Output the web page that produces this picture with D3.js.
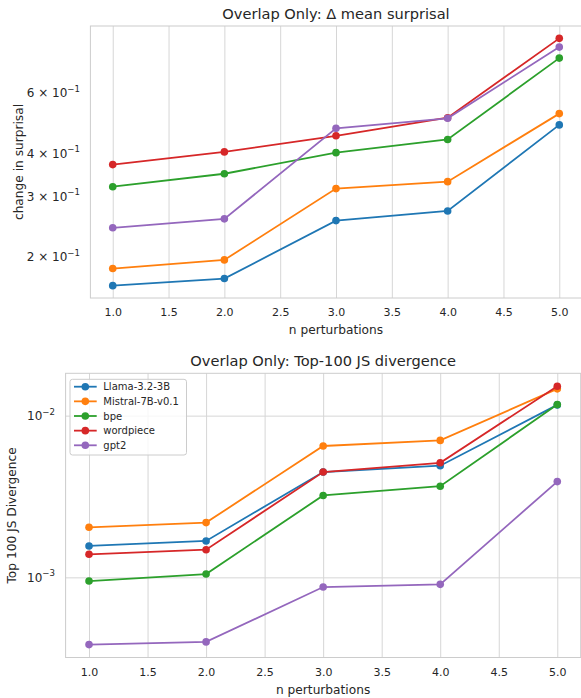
<!DOCTYPE html>
<html>
<head>
<meta charset="utf-8">
<script src="https://cdn.jsdelivr.net/npm/d3@7"></script>
<style>
  html, body { margin: 0; padding: 0; background: #fff; }
  svg { display: block; font-family: "DejaVu Sans", sans-serif; }
</style>
</head>
<body>
<svg id="chart" width="581" height="698"></svg>
<script>
// ---------------- data ----------------
const nPerturbations = [1, 2, 3, 4, 5];
const seriesNames = ["Llama-3.2-3B", "Mistral-7B-v0.1", "bpe", "wordpiece", "gpt2"];
const seriesColors = ["#1f77b4", "#ff7f0e", "#2ca02c", "#d62728", "#9467bd"];

// Top panel: Δ mean surprisal
const surprisalLlama     = [0.165, 0.173, 0.255, 0.272, 0.484];
const surprisalMistral   = [0.185, 0.196, 0.316, 0.331, 0.522];
const surprisalBpe       = [0.320, 0.349, 0.402, 0.439, 0.757];
const surprisalWordpiece = [0.371, 0.404, 0.450, 0.508, 0.864];
const surprisalGpt2      = [0.243, 0.258, 0.473, 0.506, 0.815];

// Bottom panel: Top-100 JS divergence
const jsLlama     = [0.001564, 0.001679, 0.00448, 0.00490, 0.01165];
const jsMistral   = [0.00204, 0.00218, 0.00649, 0.00703, 0.01464];
const jsBpe       = [0.000949, 0.001048, 0.00321, 0.00366, 0.01170];
const jsWordpiece = [0.001389, 0.001483, 0.00448, 0.00511, 0.01520];
const jsGpt2      = [0.000384, 0.000399, 0.000871, 0.000905, 0.00391];

const xTicks = [1.0, 1.5, 2.0, 2.5, 3.0, 3.5, 4.0, 4.5, 5.0];
const topYTicks = [0.2, 0.3, 0.4, 0.6];
const topYTickMantissa = ["2", "3", "4", "6"];
const topYTickExp = ["−1", "−1", "−1", "−1"];
const bottomYTicks = [0.001, 0.01];
const bottomYTickExp = ["−3", "−2"];

const topTitle = "Overlap Only: Δ mean surprisal";
const bottomTitle = "Overlap Only: Top-100 JS divergence";
const xLabel = "n perturbations";
const topYLabel = "change in surprisal";
const bottomYLabel = "Top 100 JS Divergence";

// ---------------- drawing ----------------
const svg = d3.select("#chart");
const TEXT = "#262626";
const GRID = "#d6d6d6";

function logPadDomain(all) {
  const lo = Math.log10(d3.min(all)), hi = Math.log10(d3.max(all));
  const p = (hi - lo) * 0.05;
  return [Math.pow(10, lo - p), Math.pow(10, hi + p)];
}

function drawPanel(cfg) {
  const g = svg.append("g");
  const x = d3.scaleLinear().domain([0.8, 5.2]).range([cfg.left, cfg.right]);
  const all = cfg.series.flat();
  const y = d3.scaleLog().domain(logPadDomain(all)).range([cfg.bottom, cfg.top]);

  const clipId = "clip" + cfg.id;
  svg.append("clipPath").attr("id", clipId).append("rect")
    .attr("x", cfg.left).attr("y", cfg.top)
    .attr("width", cfg.right - cfg.left).attr("height", cfg.bottom - cfg.top);

  // vertical grid
  const xGrid = d3.axisBottom(x).tickValues(xTicks).tickSize(-(cfg.bottom - cfg.top)).tickFormat("");
  const gx = g.append("g").attr("transform", `translate(0,${cfg.bottom})`).call(xGrid);
  gx.select(".domain").remove();
  gx.selectAll("line").attr("stroke", GRID).attr("stroke-width", 1);

  // horizontal grid (major decades only)
  if (cfg.hGrid) {
    const yGrid = d3.axisLeft(y).tickValues(cfg.hGrid).tickSize(-(cfg.right - cfg.left)).tickFormat("");
    const gy = g.append("g").attr("transform", `translate(${cfg.left},0)`).call(yGrid);
    gy.select(".domain").remove();
    gy.selectAll("line").attr("stroke", GRID).attr("stroke-width", 1);
  }

  // frame
  g.append("rect").attr("x", cfg.left).attr("y", cfg.top)
    .attr("width", cfg.right - cfg.left).attr("height", cfg.bottom - cfg.top)
    .attr("fill", "none").attr("stroke", "#cccccc").attr("stroke-width", 1);

  // x tick labels
  const xAxis = d3.axisBottom(x).tickValues(xTicks).tickSize(0).tickPadding(0)
    .tickFormat(d3.format(".1f"));
  const gxl = g.append("g").attr("transform", `translate(0,${cfg.bottom})`).call(xAxis);
  gxl.select(".domain").remove();
  gxl.selectAll("text").attr("y", cfg.xTickDy).attr("dy", "0.35em")
    .attr("fill", TEXT).attr("font-size", 11).attr("font-family", "DejaVu Sans");

  // y tick labels (mathtext-like)
  const yt = g.append("g");
  cfg.yTicks.forEach((v, i) => {
    const t = yt.append("text").attr("x", cfg.yLabelRight).attr("y", y(v) + 4.3)
      .attr("text-anchor", "end")
      .attr("fill", TEXT).attr("font-size", 12);
    t.append("tspan").text(cfg.yTickBase(i));
    t.append("tspan").attr("dy", -5.2).attr("font-size", 8.6).text(cfg.yTickExp[i]);
  });

  // lines and markers
  const line = d3.line().x((d, i) => x(nPerturbations[i])).y(d => y(d));
  const plot = g.append("g").attr("clip-path", `url(#${clipId})`);
  cfg.series.forEach((s, k) => {
    const sg = plot.append("g");
    sg.append("path").datum(s).attr("d", line).attr("fill", "none")
      .attr("stroke", seriesColors[k]).attr("stroke-width", 1.8);
    sg.selectAll("circle").data(s).join("circle")
      .attr("cx", (d, i) => x(nPerturbations[i])).attr("cy", d => y(d))
      .attr("r", 3.8).attr("fill", seriesColors[k]);
  });

  // title
  g.append("text").attr("x", (cfg.left + cfg.right) / 2).attr("y", cfg.titleY)
    .attr("dy", "0.35em").attr("text-anchor", "middle").attr("fill", TEXT)
    .attr("font-size", 14.6).text(cfg.title);
  // x label
  g.append("text").attr("x", (cfg.left + cfg.right) / 2).attr("y", cfg.xLabelY)
    .attr("dy", "0.35em").attr("text-anchor", "middle").attr("fill", TEXT)
    .attr("font-size", 12.2).text(xLabel);
  // y label
  g.append("text")
    .attr("transform", `translate(${cfg.yLabelX},${(cfg.top + cfg.bottom) / 2}) rotate(-90)`)
    .attr("dy", "0.35em").attr("text-anchor", "middle").attr("fill", TEXT)
    .attr("font-size", 12.2).text(cfg.yLabel);

  return { g, x, y };
}

drawPanel({
  id: "top", left: 90.4, right: 581.6, top: 26, bottom: 298,
  series: [surprisalLlama, surprisalMistral, surprisalBpe, surprisalWordpiece, surprisalGpt2],
  hGrid: null,
  yTicks: topYTicks, yTickBase: i => topYTickMantissa[i] + " × 10", yTickExp: topYTickExp,
  yLabelRight: 80, xTickDy: 14.3, titleY: 14, xLabelY: 329.3, yLabelX: 18.3,
  title: topTitle, yLabel: topYLabel
});

drawPanel({
  id: "bottom", left: 65.6, right: 580.7, top: 373.3, bottom: 657.5,
  series: [jsLlama, jsMistral, jsBpe, jsWordpiece, jsGpt2],
  hGrid: bottomYTicks,
  yTicks: bottomYTicks, yTickBase: i => "10", yTickExp: bottomYTickExp,
  yLabelRight: 55, xTickDy: 14.2, titleY: 360.7, xLabelY: 690, yLabelX: 11.7,
  title: bottomTitle, yLabel: bottomYLabel
});

// legend (bottom panel)
const lg = svg.append("g");
lg.append("rect").attr("x", 70).attr("y", 379.3).attr("width", 116.5).attr("height", 75.7)
  .attr("rx", 2.5).attr("fill", "#fff").attr("fill-opacity", 0.8)
  .attr("stroke", "#cccccc").attr("stroke-width", 1);
seriesNames.forEach((name, k) => {
  const yy = 386.7 + k * 14.65;
  lg.append("line").attr("x1", 74).attr("x2", 96.7).attr("y1", yy).attr("y2", yy)
    .attr("stroke", seriesColors[k]).attr("stroke-width", 1.8);
  lg.append("circle").attr("cx", 85.3).attr("cy", yy).attr("r", 3.8).attr("fill", seriesColors[k]);
  lg.append("text").attr("x", 103.3).attr("y", yy).attr("dy", "0.35em")
    .attr("fill", TEXT).attr("font-size", 10).text(name);
});
</script>
</body>
</html>
